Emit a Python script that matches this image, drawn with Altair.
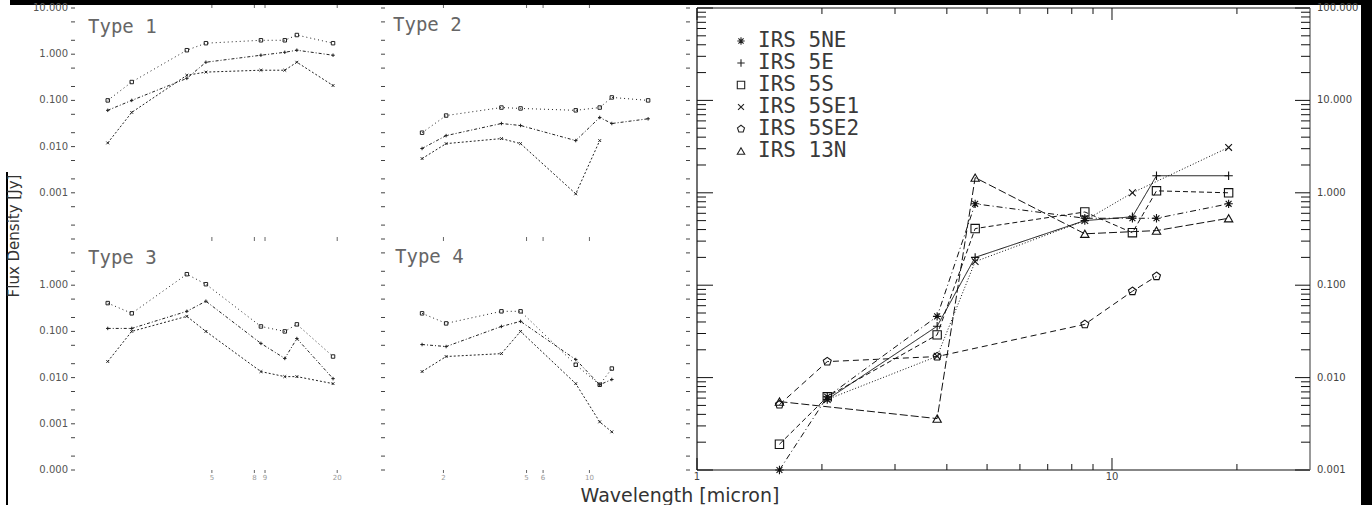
import altair as alt
import pandas as pd

# Photometric band centres (micron)
WAVE = [1.58, 2.06, 3.79, 4.68, 8.6, 11.2, 12.8, 19.1]

# Flux densities (Jy) of the individual sources; None = no measurement
SOURCES = ["IRS 5NE", "IRS 5E", "IRS 5S", "IRS 5SE1", "IRS 5SE2", "IRS 13N"]
IRS_5NE = [0.0010, 0.0062, 0.046, 0.76, 0.53, 0.53, 0.53, 0.76]
IRS_5E = [None, 0.0058, 0.036, 0.20, 0.50, 0.55, 1.53, 1.53]
IRS_5S = [0.0019, 0.0062, 0.029, 0.41, 0.62, 0.37, 1.05, 1.00]
IRS_5SE1 = [None, 0.0058, 0.017, 0.18, 0.50, 1.00, None, 3.10]
IRS_5SE2 = [0.0051, 0.0149, 0.0169, None, 0.0377, 0.086, 0.125, None]
IRS_13N = [0.0055, None, 0.0036, 1.46, 0.36, None, 0.39, 0.53]

# Template SEDs of the four source types (three curves each)
TYPE1 = [
    [0.10, 0.25, 1.22, 1.73, 2.0, 2.0, 2.6, 1.73],
    [0.061, 0.10, 0.30, 0.67, 0.95, 1.10, 1.22, 0.95],
    [0.012, 0.055, 0.35, 0.41, 0.45, 0.45, 0.67, 0.21],
]
TYPE2 = [
    [0.020, 0.047, 0.070, 0.067, 0.061, 0.070, 0.116, 0.10],
    [0.0091, 0.0173, 0.0316, 0.0286, 0.0135, 0.0427, 0.0316, 0.040],
    [0.0055, 0.0116, 0.0149, 0.0116, 0.00095, 0.0135, None, None],
]
TYPE3 = [
    [0.41, 0.246, 1.73, 1.05, 0.128, 0.10, 0.142, 0.0286],
    [0.116, 0.116, 0.272, 0.45, 0.055, 0.026, 0.070, 0.0095],
    [0.0223, 0.10, 0.212, 0.10, 0.0135, 0.0105, 0.0105, 0.0074],
]
TYPE4 = [
    [0.246, 0.149, 0.272, 0.272, 0.019, 0.0070, 0.0157, None],
    [0.052, 0.047, 0.128, 0.165, 0.0246, 0.0070, 0.0091, None],
    [0.0135, 0.0286, 0.033, 0.10, 0.0074, 0.0011, 0.00067, None],
]

# Axis tick values
BIG_Y_MAJOR = [0.001, 0.01, 0.1, 1, 10, 100]
BIG_Y_MINOR = [k * 10.0 ** d for d in range(-3, 2) for k in range(2, 10)]
BIG_X_MAJOR = [1, 10]
BIG_X_MINOR = [2, 3, 4, 5, 6, 7, 8, 9, 20]
LEFT_X_TICKS = [5, 8, 9, 20]
RIGHT_X_TICKS = [2, 5, 6, 10]
# small panels are stacked in decade units: lower panel -4..1, upper panel 1..6
SMALL_Y_TICKS = sorted({round(d + s + off, 4) for s in (0, 5) for d in range(-4, 1)
                        for off in (0.0, 0.30103, 0.69897)} | {1.0, 6.0})
SMALL_Y_LABELS = [6, 5, 4, 3, 2, 0, -1, -2, -3, -4]

# Marker shapes (unit SVG paths) and dash patterns
ASTERISK = "M-1,0L1,0M0,-1L0,1M-0.7,-0.7L0.7,0.7M-0.7,0.7L0.7,-0.7"
PLUS = "M-1,0L1,0M0,-1L0,1"
XMARK = "M-0.8,-0.8L0.8,0.8M-0.8,0.8L0.8,-0.8"
PENTAGON = "M0,-1L0.95,-0.31L0.59,0.81L-0.59,0.81L-0.95,-0.31Z"
SHAPES = [ASTERISK, PLUS, "square", XMARK, PENTAGON, "triangle-up"]
DASHES = [[6, 3, 1, 3], [1, 0], [5, 3], [1, 2], [6, 4], [8, 3]]
SMALL_STYLES = [([1, 3], "square"), ([3, 2, 1, 2], PLUS), ([2, 2], XMARK)]

INK = "#111"
BW, BH = 613, 462          # main panel
H = 462                    # height of every column
ONE = alt.Data(values=[{"t": ""}])


def long_table(names, series):
    rows = []
    for name, vals in zip(names, series):
        for w, f in zip(WAVE, vals):
            if f is not None:
                rows.append({"curve": name, "wave": w, "flux": f})
    return pd.DataFrame(rows)


def rules(field, values, scale, x=None, y=None, color=INK, width=1):
    """Tick marks at data values; the other coordinate is a pixel span (a, b)."""
    df = pd.DataFrame({field: values})
    base = alt.Chart(df).mark_rule(color=color, strokeWidth=width)
    if x is not None:
        return base.encode(y=alt.Y(f"{field}:Q", scale=scale, axis=None),
                           x=alt.value(x[0]), x2=alt.value(x[1]))
    return base.encode(x=alt.X(f"{field}:Q", scale=scale, axis=None),
                       y=alt.value(y[0]), y2=alt.value(y[1]))


def tick_labels(field, values, scale, expr, x=None, y=None, size=9, color="#444",
                align="center"):
    df = pd.DataFrame({field: values})
    base = alt.Chart(df).transform_calculate(lab=expr).mark_text(
        fontSize=size, color=color, align=align, baseline="middle")
    if x is not None:
        return base.encode(y=alt.Y(f"{field}:Q", scale=scale, axis=None),
                           x=alt.value(x), text="lab:N")
    return base.encode(x=alt.X(f"{field}:Q", scale=scale, axis=None),
                       y=alt.value(y), text="lab:N")


def text_at(txt, x, y, size, color="#333", font="DejaVu Sans", angle=None, align="left"):
    kw = dict(font=font, fontSize=size, color=color, align=align, baseline="middle")
    if angle is not None:
        kw["angle"] = angle
    return alt.Chart(alt.Data(values=[{"t": txt}])).mark_text(**kw).encode(
        text="t:N", x=alt.value(x), y=alt.value(y))


def edge(x=None, y=None, color=INK, width=1.2):
    if x is not None:
        enc = dict(x=alt.value(x), y=alt.value(0), y2=alt.value(BH))
    else:
        enc = dict(y=alt.value(y), x=alt.value(0), x2=alt.value(BW))
    return alt.Chart(ONE).mark_rule(color=color, strokeWidth=width).encode(**enc)


# ---------------- main panel ----------------
big_df = long_table(SOURCES, [IRS_5NE, IRS_5E, IRS_5S, IRS_5SE1, IRS_5SE2, IRS_13N])
bx = alt.Scale(type="log", domain=[1, 30])
by = alt.Scale(type="log", domain=[0.001, 100])

big_lines = alt.Chart(big_df).mark_line(color=INK, strokeWidth=1).encode(
    x=alt.X("wave:Q", scale=bx, axis=None),
    y=alt.Y("flux:Q", scale=by, axis=None),
    strokeDash=alt.StrokeDash("curve:N", scale=alt.Scale(domain=SOURCES, range=DASHES),
                              legend=None),
    detail="curve:N",
)
big_points = alt.Chart(big_df).mark_point(
    filled=False, color=INK, size=70, strokeWidth=1.1, opacity=1
).encode(
    x=alt.X("wave:Q", scale=bx, axis=None),
    y=alt.Y("flux:Q", scale=by, axis=None),
    shape=alt.Shape("curve:N", scale=alt.Scale(domain=SOURCES, range=SHAPES), legend=None),
)

# key in the upper-left corner of the main panel
key_layers = []
for i, (name, shape) in enumerate(zip(SOURCES, SHAPES)):
    row_y = 33 + 22 * i
    key_layers.append(alt.Chart(ONE).mark_point(
        shape=shape, filled=False, color="#222", size=55, strokeWidth=1.1, opacity=1
    ).encode(x=alt.value(44), y=alt.value(row_y)))
    key_layers.append(text_at(name, 61, row_y, 21, "#3a3a3a", "DejaVu Sans Mono"))

big_guides = [
    edge(x=0), edge(y=0), edge(y=BH), edge(x=BW, color="#999", width=2),
    rules("flux", BIG_Y_MAJOR, by, x=(0, 16)),
    rules("flux", BIG_Y_MINOR, by, x=(0, 9)),
    rules("flux", BIG_Y_MAJOR, by, x=(BW - 15, BW)),
    rules("flux", BIG_Y_MINOR, by, x=(BW - 9, BW)),
    rules("wave", BIG_X_MAJOR, bx, y=(0, 12)),
    rules("wave", BIG_X_MINOR, bx, y=(0, 6)),
    rules("wave", BIG_X_MAJOR, bx, y=(BH - 12, BH)),
    rules("wave", BIG_X_MINOR, bx, y=(BH - 6, BH)),
    tick_labels("flux", BIG_Y_MAJOR, by, "format(datum.flux, '.3f')", x=BW + 7,
                size=10, align="left"),
    tick_labels("wave", BIG_X_MAJOR, bx, "format(datum.wave, 'd')", y=BH + 7, size=10),
]
big = alt.layer(big_lines, big_points, *big_guides, *key_layers).properties(
    width=BW, height=BH)


# ---------------- small panels: one column holds an upper and a lower panel ----------------
def small_column(upper, lower, labels, width, xdom, xticks, with_labels, right_ticks,
                 extra=()):
    xs = alt.Scale(type="log", domain=xdom)
    ys = alt.Scale(domain=[-4, 6])
    layers = []
    for k, (dash, shape) in enumerate(SMALL_STYLES):
        rows = []
        for panel, series in (("top", upper), ("bottom", lower)):
            for w, f in zip(WAVE, series[k]):
                if f is not None:
                    rows.append({"panel": panel, "wave": w, "flux": f})
        base = alt.Chart(pd.DataFrame(rows)).transform_calculate(
            ypos="log(datum.flux) / LN10 + (datum.panel === 'top' ? 5 : 0)")
        layers.append(base.mark_line(color="#222", strokeWidth=1, strokeDash=dash).encode(
            x=alt.X("wave:Q", scale=xs, axis=None),
            y=alt.Y("ypos:Q", scale=ys, axis=None),
            detail="panel:N"))
        layers.append(base.mark_point(shape=shape, filled=False, color="#222", size=12,
                                      strokeWidth=1, opacity=1).encode(
            x=alt.X("wave:Q", scale=xs, axis=None),
            y=alt.Y("ypos:Q", scale=ys, axis=None)))
    layers += [
        rules("wave", xticks, xs, y=(-3, 0), color="#666"),
        rules("wave", xticks, xs, y=(H / 2 - 2, H / 2 + 2), color="#666"),
        rules("wave", xticks, xs, y=(H, H + 3), color="#666"),
        rules("ypos", SMALL_Y_TICKS, ys, x=(-4, 0), color="#444"),
        tick_labels("wave", xticks, xs, "format(datum.wave, 'd')", y=H + 8,
                    size=7, color="#999"),
    ]
    if with_labels:
        layers.append(tick_labels(
            "ypos", SMALL_Y_LABELS, ys,
            "format(pow(10, datum.ypos > 1 ? datum.ypos - 5 : datum.ypos), '.3f')",
            x=-7, size=10, color="#555", align="right"))
    if right_ticks:
        layers.append(rules("ypos", SMALL_Y_TICKS, ys, x=(width, width + 4), color="#444"))
    for txt, tx, ty in labels:
        layers.append(text_at(txt, tx, ty, 19, "#666", "DejaVu Sans Mono"))
    layers.extend(extra)
    return alt.layer(*layers).properties(width=width, height=H)


col1 = small_column(TYPE1, TYPE3, (("Type 1", 13, 19), ("Type 3", 13, 250)),
                    270, [1.1, 21.8], LEFT_X_TICKS, True, False)
col2 = small_column(TYPE2, TYPE4, (("Type 2", 8, 17), ("Type 4", 10, 249)),
                    301, [1.05, 29], RIGHT_X_TICKS, False, True,
                    extra=[text_at("Wavelength [micron]", 295, 487.5, 19, align="center")])

# ---------------- frame pieces and the y title ----------------
strip = alt.layer(
    alt.Chart(ONE).mark_rect(color="black").encode(
        x=alt.value(10), x2=alt.value(1372), y=alt.value(-8), y2=alt.value(-3)),
    alt.Chart(ONE).mark_rule(color="black", strokeWidth=2).encode(
        x=alt.value(7), y=alt.value(164), y2=alt.value(497)),
    text_at("Flux Density [Jy]", 14, 228, 15, angle=270, align="center"),
).properties(width=75, height=H)


def spacer(w):
    return alt.Chart(ONE).mark_point(opacity=0).encode(
        x=alt.value(0), y=alt.value(0)).properties(width=w, height=H)


right_bar = alt.Chart(ONE).mark_rect(color="black").encode(
    x=alt.value(51), x2=alt.value(62), y=alt.value(-8), y2=alt.value(497)
).properties(width=62, height=H)

chart = alt.hconcat(
    strip, col1, spacer(40), col2, spacer(11), big, right_bar,
    spacing=0, bounds="flush",
).resolve_scale(
    shape="independent", strokeDash="independent"
).properties(padding=0).configure(font="DejaVu Sans").configure_view(stroke=None)

chart.save("out.html", embed_options={"renderer": "svg", "actions": False})
